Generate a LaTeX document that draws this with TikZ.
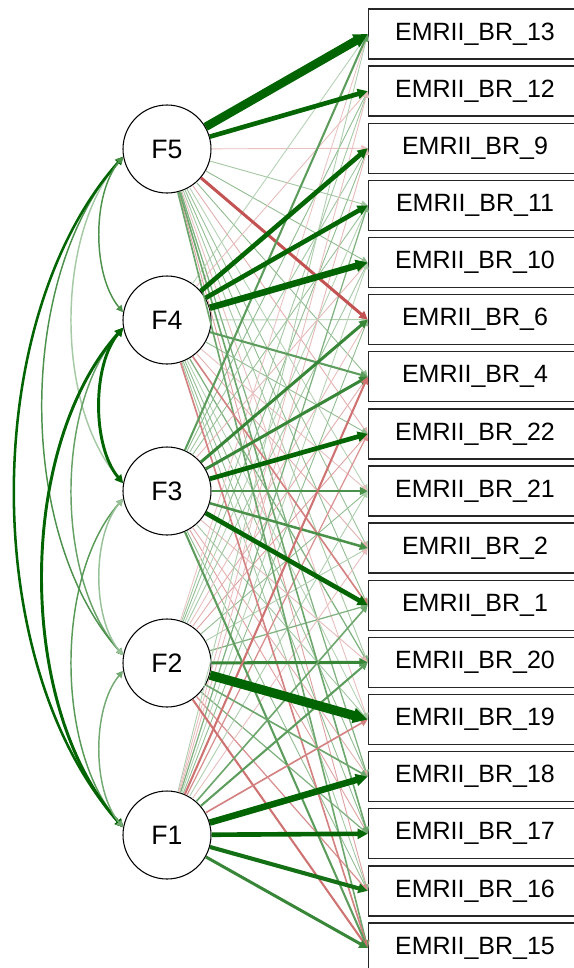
\documentclass[tikz,border=0pt]{standalone}
\usepackage{fontspec}
\setmainfont{Liberation Sans}
\usetikzlibrary{arrows.meta}
\definecolor{pos}{RGB}{0,100,0}
\definecolor{neg}{RGB}{178,34,34}
\begin{document}
\begin{tikzpicture}[x=0.75pt,y=-0.75pt,
  item/.style={draw=black!85, line width=1pt, fill=white, minimum width=160pt, minimum height=37.5pt, inner sep=0pt, font=\fontsize{18.75}{22}\selectfont},
  lat/.style={draw=black, line width=0.8pt, fill=white, circle, minimum size=66pt, inner sep=0pt, font=\fontsize{20}{24}\selectfont},
  tip/.style={-{Triangle[length=4pt 1, width=4pt 1]}},
  cov/.style={{Triangle[length=4pt 1, width=4pt 1]}-{Triangle[length=4pt 1, width=4pt 1]}}
  ]
\useasboundingbox (0,0) rectangle (574,968);
% latent factors
\node[lat] (f5) at (167,149) {F5};
\node[lat] (f4) at (167,320) {F4};
\node[lat] (f3) at (167,491) {F3};
\node[lat] (f2) at (167,663) {F2};
\node[lat] (f1) at (167,835) {F1};
% items
\foreach \n [count=\i from 0] in {13,12,9,11,10,6,4,22,21,2,1,20,19,18,17,16,15}
  \node[item] (b\n) at (475, 34+57.125*\i) {EMRII\_BR\_\n};
% loadings
\def\loadlist{
f5/b13/0.90, f5/b12/0.60, f5/b9/-0.10, f5/b11/0.15, f5/b10/0.20, f5/b6/-0.45, f5/b4/0.20, f5/b22/-0.15, f5/b21/0.10, f5/b2/0.18, f5/b1/0.20, f5/b20/0.15, f5/b19/-0.10, f5/b18/0.25, f5/b17/0.30, f5/b16/-0.20, f5/b15/0.30,
f4/b13/0.10, f4/b12/-0.10, f4/b9/0.60, f4/b11/0.60, f4/b10/0.75, f4/b6/0.12, f4/b4/0.35, f4/b22/0.20, f4/b21/-0.10, f4/b2/-0.15, f4/b1/-0.30, f4/b20/0.25, f4/b19/0.10, f4/b18/0.20, f4/b17/0.20, f4/b16/0.15, f4/b15/-0.30,
f3/b13/0.35, f3/b12/0.20, f3/b9/0.15, f3/b11/0.18, f3/b10/-0.12, f3/b6/0.45, f3/b4/0.45, f3/b22/0.60, f3/b21/0.40, f3/b2/0.40, f3/b1/0.60, f3/b20/-0.12, f3/b19/0.15, f3/b18/-0.15, f3/b17/-0.20, f3/b16/0.20, f3/b15/0.35,
f2/b13/-0.08, f2/b12/0.15, f2/b9/0.20, f2/b11/0.10, f2/b10/0.15, f2/b6/-0.10, f2/b4/-0.15, f2/b22/-0.20, f2/b21/0.20, f2/b2/0.12, f2/b1/0.25, f2/b20/0.45, f2/b19/0.95, f2/b18/0.30, f2/b17/0.25, f2/b16/-0.25, f2/b15/-0.35,
f1/b13/0.12, f1/b12/-0.10, f1/b9/-0.12, f1/b11/0.25, f1/b10/0.10, f1/b6/0.20, f1/b4/-0.35, f1/b22/-0.25, f1/b21/0.12, f1/b2/-0.10, f1/b1/0.30, f1/b20/0.35, f1/b19/-0.30, f1/b18/0.75, f1/b17/0.60, f1/b16/0.55, f1/b15/0.45}
\foreach \pass in {1,2,3}{
  \foreach \f/\b/\v in \loadlist {
    \pgfmathsetmacro\va{abs(\v)}
    \pgfmathtruncatemacro\pp{\va<0.3 ? 1 : (\va<0.5 ? 2 : 3)}
    \ifnum\pp=\pass
      \pgfmathsetmacro\vp{min(100,15+140*\va)}
      \pgfmathsetmacro\vw{max(0.9,10*\va^1.5)*0.75}
      \pgfmathtruncatemacro\vs{\v<0}
      \ifnum\vs=1 \def\vc{neg}\else\def\vc{pos}\fi
      \draw[tip, line width=\vw pt, draw=\vc!\vp!white] (\f) -- (\b.west);
    \fi
  }
}
% covariances
\draw[cov, draw=pos!35!white, line width=1.1pt] (f5.190) .. controls (55,234) and (55,406) .. (f3.170);
\draw[cov, draw=pos!60!white, line width=1.1pt] (f4.190) .. controls (55,405) and (55,578) .. (f2.170);
\draw[cov, draw=pos!65!white, line width=1.1pt] (f3.190) .. controls (55,576) and (55,750) .. (f1.170);
\draw[cov, draw=pos!70!white, line width=1.1pt] (f5.190) .. controls (16,277) and (16,535) .. (f2.170);
\draw[cov, draw=pos!100, line width=2.2pt] (f4.190) .. controls (16,448) and (16,707) .. (f1.170);
\draw[cov, draw=pos!100, line width=1.9pt] (f5.190) .. controls (-21,319) and (-21,665) .. (f1.170);
\draw[cov, draw=pos!70!white, line width=1.1pt] (f5.190) .. controls (92,194) and (92,275) .. (f4.170);
\draw[cov, draw=pos!100, line width=2.2pt] (f4.190) .. controls (92,365) and (92,446) .. (f3.170);
\draw[cov, draw=pos!40!white, line width=1.1pt] (f3.190) .. controls (92,536) and (92,618) .. (f2.170);
\draw[cov, draw=pos!55!white, line width=1.1pt] (f2.190) .. controls (92,708) and (92,790) .. (f1.170);
\end{tikzpicture}
\end{document}
